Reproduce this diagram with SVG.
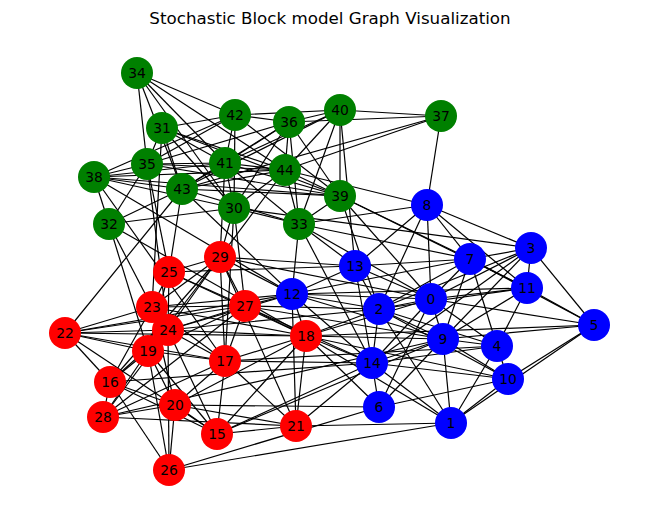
<svg xmlns="http://www.w3.org/2000/svg" width="660" height="522" viewBox="0 0 660 522">
<style>
.e line{stroke:#000;stroke-width:1.2}
.n circle{stroke:none}
.r circle{fill:#ff0000}.b circle{fill:#0000ff}.g circle{fill:#008000}
.n text{font-family:"DejaVu Sans",sans-serif;font-size:13.9px;fill:#000;text-anchor:middle;dominant-baseline:central}
.t{font-family:"DejaVu Sans",sans-serif;font-size:16.7px;text-anchor:middle;fill:#000}
</style>
<rect width="660" height="522" fill="#fff"/>
<text class="t" x="330" y="24">Stochastic Block model Graph Visualization</text>
<g id="edges" class="e">
<line x1="137" y1="73" x2="235" y2="115"/><line x1="137" y1="73" x2="285" y2="170"/><line x1="137" y1="73" x2="225" y2="163"/><line x1="137" y1="73" x2="234" y2="208"/><line x1="137" y1="73" x2="147" y2="164"/><line x1="137" y1="73" x2="182" y2="189"/>
<line x1="235" y1="115" x2="289" y2="122"/><line x1="235" y1="115" x2="340" y2="110"/><line x1="235" y1="115" x2="225" y2="163"/><line x1="235" y1="115" x2="234" y2="208"/><line x1="235" y1="115" x2="147" y2="164"/><line x1="235" y1="115" x2="162" y2="128"/><line x1="235" y1="115" x2="340" y2="196"/><line x1="235" y1="115" x2="94" y2="177"/>
<line x1="289" y1="122" x2="340" y2="110"/><line x1="289" y1="122" x2="441" y2="116"/><line x1="289" y1="122" x2="285" y2="170"/><line x1="289" y1="122" x2="340" y2="196"/><line x1="289" y1="122" x2="299" y2="224"/><line x1="289" y1="122" x2="182" y2="189"/><line x1="289" y1="122" x2="147" y2="164"/><line x1="289" y1="122" x2="234" y2="208"/><line x1="289" y1="122" x2="225" y2="163"/>
<line x1="340" y1="110" x2="441" y2="116"/><line x1="340" y1="110" x2="340" y2="196"/><line x1="340" y1="110" x2="299" y2="224"/><line x1="340" y1="110" x2="285" y2="170"/><line x1="340" y1="110" x2="225" y2="163"/><line x1="340" y1="110" x2="182" y2="189"/>
<line x1="441" y1="116" x2="285" y2="170"/><line x1="441" y1="116" x2="182" y2="189"/>
<line x1="162" y1="128" x2="147" y2="164"/><line x1="162" y1="128" x2="225" y2="163"/><line x1="162" y1="128" x2="182" y2="189"/><line x1="162" y1="128" x2="285" y2="170"/><line x1="162" y1="128" x2="340" y2="196"/><line x1="162" y1="128" x2="234" y2="208"/>
<line x1="147" y1="164" x2="94" y2="177"/><line x1="147" y1="164" x2="225" y2="163"/><line x1="147" y1="164" x2="285" y2="170"/><line x1="147" y1="164" x2="340" y2="196"/><line x1="147" y1="164" x2="109" y2="224"/>
<line x1="225" y1="163" x2="94" y2="177"/><line x1="225" y1="163" x2="182" y2="189"/><line x1="225" y1="163" x2="285" y2="170"/><line x1="225" y1="163" x2="234" y2="208"/><line x1="225" y1="163" x2="340" y2="196"/><line x1="225" y1="163" x2="299" y2="224"/>
<line x1="94" y1="177" x2="182" y2="189"/><line x1="94" y1="177" x2="285" y2="170"/><line x1="94" y1="177" x2="234" y2="208"/><line x1="94" y1="177" x2="340" y2="196"/><line x1="94" y1="177" x2="109" y2="224"/>
<line x1="182" y1="189" x2="285" y2="170"/><line x1="182" y1="189" x2="340" y2="196"/><line x1="182" y1="189" x2="109" y2="224"/><line x1="182" y1="189" x2="299" y2="224"/>
<line x1="285" y1="170" x2="340" y2="196"/><line x1="285" y1="170" x2="299" y2="224"/><line x1="285" y1="170" x2="234" y2="208"/>
<line x1="340" y1="196" x2="299" y2="224"/><line x1="234" y1="208" x2="299" y2="224"/><line x1="109" y1="224" x2="234" y2="208"/>
<line x1="441" y1="116" x2="427" y2="205"/><line x1="340" y1="110" x2="355" y2="266"/><line x1="285" y1="170" x2="427" y2="205"/><line x1="299" y1="224" x2="292" y2="294"/><line x1="299" y1="224" x2="355" y2="266"/><line x1="299" y1="224" x2="470" y2="259"/><line x1="234" y1="208" x2="531" y2="248"/><line x1="340" y1="196" x2="379" y2="309"/><line x1="340" y1="196" x2="431" y2="299"/><line x1="340" y1="196" x2="470" y2="259"/><line x1="234" y1="208" x2="245" y2="306"/><line x1="234" y1="208" x2="220" y2="257"/><line x1="234" y1="208" x2="225" y2="361"/><line x1="225" y1="163" x2="220" y2="257"/><line x1="182" y1="189" x2="169" y2="272"/><line x1="182" y1="189" x2="65" y2="333"/><line x1="109" y1="224" x2="152" y2="307"/><line x1="109" y1="224" x2="148" y2="351"/><line x1="109" y1="224" x2="306" y2="336"/><line x1="147" y1="164" x2="169" y2="272"/><line x1="147" y1="164" x2="168" y2="330"/><line x1="162" y1="128" x2="152" y2="307"/><line x1="94" y1="177" x2="225" y2="361"/><line x1="94" y1="177" x2="292" y2="294"/><line x1="182" y1="189" x2="292" y2="294"/><line x1="299" y1="224" x2="372" y2="363"/><line x1="285" y1="170" x2="220" y2="257"/><line x1="340" y1="196" x2="527" y2="288"/><line x1="299" y1="224" x2="427" y2="205"/><line x1="299" y1="224" x2="431" y2="299"/>
<line x1="65" y1="333" x2="152" y2="307"/><line x1="65" y1="333" x2="245" y2="306"/><line x1="65" y1="333" x2="168" y2="330"/><line x1="65" y1="333" x2="306" y2="336"/><line x1="65" y1="333" x2="225" y2="361"/><line x1="65" y1="333" x2="148" y2="351"/><line x1="65" y1="333" x2="110" y2="382"/><line x1="65" y1="333" x2="217" y2="434"/>
<line x1="152" y1="307" x2="169" y2="272"/><line x1="152" y1="307" x2="220" y2="257"/><line x1="152" y1="307" x2="245" y2="306"/><line x1="152" y1="307" x2="168" y2="330"/><line x1="152" y1="307" x2="225" y2="361"/><line x1="152" y1="307" x2="306" y2="336"/><line x1="152" y1="307" x2="110" y2="382"/><line x1="152" y1="307" x2="175" y2="405"/>
<line x1="169" y1="272" x2="220" y2="257"/><line x1="169" y1="272" x2="168" y2="330"/><line x1="169" y1="272" x2="245" y2="306"/><line x1="169" y1="272" x2="306" y2="336"/><line x1="169" y1="272" x2="148" y2="351"/>
<line x1="220" y1="257" x2="245" y2="306"/><line x1="220" y1="257" x2="225" y2="361"/><line x1="220" y1="257" x2="168" y2="330"/><line x1="220" y1="257" x2="148" y2="351"/><line x1="220" y1="257" x2="110" y2="382"/><line x1="220" y1="257" x2="296" y2="426"/>
<line x1="245" y1="306" x2="168" y2="330"/><line x1="245" y1="306" x2="225" y2="361"/><line x1="245" y1="306" x2="306" y2="336"/><line x1="245" y1="306" x2="148" y2="351"/><line x1="245" y1="306" x2="103" y2="417"/>
<line x1="168" y1="330" x2="148" y2="351"/><line x1="168" y1="330" x2="225" y2="361"/><line x1="168" y1="330" x2="306" y2="336"/><line x1="168" y1="330" x2="217" y2="434"/><line x1="168" y1="330" x2="169" y2="470"/><line x1="168" y1="330" x2="110" y2="382"/><line x1="168" y1="330" x2="103" y2="417"/>
<line x1="148" y1="351" x2="110" y2="382"/><line x1="148" y1="351" x2="225" y2="361"/><line x1="148" y1="351" x2="175" y2="405"/><line x1="148" y1="351" x2="217" y2="434"/><line x1="148" y1="351" x2="169" y2="470"/><line x1="148" y1="351" x2="103" y2="417"/>
<line x1="225" y1="361" x2="217" y2="434"/><line x1="225" y1="361" x2="175" y2="405"/><line x1="225" y1="361" x2="306" y2="336"/><line x1="225" y1="361" x2="296" y2="426"/><line x1="225" y1="361" x2="103" y2="417"/>
<line x1="306" y1="336" x2="296" y2="426"/><line x1="306" y1="336" x2="217" y2="434"/><line x1="306" y1="336" x2="175" y2="405"/>
<line x1="110" y1="382" x2="103" y2="417"/><line x1="110" y1="382" x2="175" y2="405"/><line x1="110" y1="382" x2="217" y2="434"/><line x1="110" y1="382" x2="169" y2="470"/>
<line x1="175" y1="405" x2="217" y2="434"/><line x1="175" y1="405" x2="169" y2="470"/><line x1="175" y1="405" x2="103" y2="417"/><line x1="175" y1="405" x2="296" y2="426"/>
<line x1="217" y1="434" x2="296" y2="426"/><line x1="103" y1="417" x2="296" y2="426"/>
<line x1="306" y1="336" x2="372" y2="363"/><line x1="306" y1="336" x2="379" y2="407"/><line x1="306" y1="336" x2="451" y2="423"/><line x1="306" y1="336" x2="292" y2="294"/><line x1="306" y1="336" x2="379" y2="309"/><line x1="306" y1="336" x2="431" y2="299"/><line x1="306" y1="336" x2="443" y2="339"/><line x1="306" y1="336" x2="508" y2="379"/><line x1="306" y1="336" x2="594" y2="325"/>
<line x1="245" y1="306" x2="292" y2="294"/><line x1="245" y1="306" x2="379" y2="309"/><line x1="245" y1="306" x2="443" y2="339"/><line x1="245" y1="306" x2="372" y2="363"/><line x1="168" y1="330" x2="292" y2="294"/><line x1="168" y1="330" x2="379" y2="309"/><line x1="152" y1="307" x2="292" y2="294"/>
<line x1="296" y1="426" x2="451" y2="423"/><line x1="296" y1="426" x2="372" y2="363"/><line x1="296" y1="426" x2="292" y2="294"/><line x1="169" y1="470" x2="379" y2="407"/><line x1="169" y1="470" x2="451" y2="423"/><line x1="175" y1="405" x2="379" y2="407"/><line x1="217" y1="434" x2="372" y2="363"/><line x1="217" y1="434" x2="443" y2="339"/><line x1="110" y1="382" x2="372" y2="363"/><line x1="225" y1="361" x2="372" y2="363"/><line x1="103" y1="417" x2="443" y2="339"/><line x1="220" y1="257" x2="292" y2="294"/><line x1="220" y1="257" x2="355" y2="266"/><line x1="220" y1="257" x2="431" y2="299"/><line x1="169" y1="272" x2="355" y2="266"/><line x1="65" y1="333" x2="292" y2="294"/><line x1="225" y1="361" x2="497" y2="346"/>
<line x1="431" y1="299" x2="427" y2="205"/><line x1="431" y1="299" x2="379" y2="309"/><line x1="431" y1="299" x2="470" y2="259"/><line x1="431" y1="299" x2="531" y2="248"/><line x1="431" y1="299" x2="527" y2="288"/><line x1="431" y1="299" x2="594" y2="325"/><line x1="431" y1="299" x2="443" y2="339"/><line x1="431" y1="299" x2="497" y2="346"/><line x1="431" y1="299" x2="379" y2="407"/><line x1="431" y1="299" x2="372" y2="363"/><line x1="431" y1="299" x2="292" y2="294"/><line x1="431" y1="299" x2="355" y2="266"/>
<line x1="379" y1="309" x2="355" y2="266"/><line x1="379" y1="309" x2="292" y2="294"/><line x1="379" y1="309" x2="443" y2="339"/><line x1="379" y1="309" x2="372" y2="363"/><line x1="379" y1="309" x2="470" y2="259"/><line x1="379" y1="309" x2="531" y2="248"/><line x1="379" y1="309" x2="527" y2="288"/><line x1="379" y1="309" x2="508" y2="379"/><line x1="379" y1="309" x2="497" y2="346"/><line x1="379" y1="309" x2="451" y2="423"/><line x1="379" y1="309" x2="427" y2="205"/>
<line x1="470" y1="259" x2="427" y2="205"/><line x1="470" y1="259" x2="531" y2="248"/><line x1="470" y1="259" x2="527" y2="288"/><line x1="470" y1="259" x2="594" y2="325"/><line x1="470" y1="259" x2="443" y2="339"/><line x1="470" y1="259" x2="497" y2="346"/><line x1="470" y1="259" x2="355" y2="266"/><line x1="470" y1="259" x2="292" y2="294"/>
<line x1="531" y1="248" x2="427" y2="205"/><line x1="531" y1="248" x2="594" y2="325"/><line x1="531" y1="248" x2="443" y2="339"/><line x1="531" y1="248" x2="372" y2="363"/><line x1="531" y1="248" x2="527" y2="288"/>
<line x1="527" y1="288" x2="427" y2="205"/><line x1="527" y1="288" x2="594" y2="325"/><line x1="527" y1="288" x2="443" y2="339"/><line x1="527" y1="288" x2="497" y2="346"/><line x1="527" y1="288" x2="292" y2="294"/>
<line x1="443" y1="339" x2="497" y2="346"/><line x1="443" y1="339" x2="508" y2="379"/><line x1="443" y1="339" x2="451" y2="423"/><line x1="443" y1="339" x2="379" y2="407"/><line x1="443" y1="339" x2="594" y2="325"/><line x1="443" y1="339" x2="372" y2="363"/><line x1="443" y1="339" x2="292" y2="294"/>
<line x1="497" y1="346" x2="508" y2="379"/><line x1="497" y1="346" x2="451" y2="423"/><line x1="497" y1="346" x2="372" y2="363"/>
<line x1="508" y1="379" x2="451" y2="423"/><line x1="508" y1="379" x2="594" y2="325"/><line x1="508" y1="379" x2="372" y2="363"/><line x1="508" y1="379" x2="379" y2="407"/>
<line x1="372" y1="363" x2="292" y2="294"/><line x1="372" y1="363" x2="355" y2="266"/><line x1="372" y1="363" x2="379" y2="407"/><line x1="372" y1="363" x2="451" y2="423"/>
<line x1="355" y1="266" x2="292" y2="294"/><line x1="355" y1="266" x2="427" y2="205"/><line x1="594" y1="325" x2="451" y2="423"/>
</g>
<g id="n0" class="n b"><circle cx="431" cy="299" r="16"/><text x="431" y="299">0</text></g>
<g id="n1" class="n b"><circle cx="451" cy="423" r="16"/><text x="451" y="423">1</text></g>
<g id="n2" class="n b"><circle cx="379" cy="309" r="16"/><text x="379" y="309">2</text></g>
<g id="n3" class="n b"><circle cx="531" cy="248" r="16"/><text x="531" y="248">3</text></g>
<g id="n4" class="n b"><circle cx="497" cy="346" r="16"/><text x="497" y="346">4</text></g>
<g id="n5" class="n b"><circle cx="594" cy="325" r="16"/><text x="594" y="325">5</text></g>
<g id="n6" class="n b"><circle cx="379" cy="407" r="16"/><text x="379" y="407">6</text></g>
<g id="n7" class="n b"><circle cx="470" cy="259" r="16"/><text x="470" y="259">7</text></g>
<g id="n8" class="n b"><circle cx="427" cy="205" r="16"/><text x="427" y="205">8</text></g>
<g id="n9" class="n b"><circle cx="443" cy="339" r="16"/><text x="443" y="339">9</text></g>
<g id="n10" class="n b"><circle cx="508" cy="379" r="16"/><text x="508" y="379">10</text></g>
<g id="n11" class="n b"><circle cx="527" cy="288" r="16"/><text x="527" y="288">11</text></g>
<g id="n12" class="n b"><circle cx="292" cy="294" r="16"/><text x="292" y="294">12</text></g>
<g id="n13" class="n b"><circle cx="355" cy="266" r="16"/><text x="355" y="266">13</text></g>
<g id="n14" class="n b"><circle cx="372" cy="363" r="16"/><text x="372" y="363">14</text></g>
<g id="n15" class="n r"><circle cx="217" cy="434" r="16"/><text x="217" y="434">15</text></g>
<g id="n16" class="n r"><circle cx="110" cy="382" r="16"/><text x="110" y="382">16</text></g>
<g id="n17" class="n r"><circle cx="225" cy="361" r="16"/><text x="225" y="361">17</text></g>
<g id="n18" class="n r"><circle cx="306" cy="336" r="16"/><text x="306" y="336">18</text></g>
<g id="n19" class="n r"><circle cx="148" cy="351" r="16"/><text x="148" y="351">19</text></g>
<g id="n20" class="n r"><circle cx="175" cy="405" r="16"/><text x="175" y="405">20</text></g>
<g id="n21" class="n r"><circle cx="296" cy="426" r="16"/><text x="296" y="426">21</text></g>
<g id="n22" class="n r"><circle cx="65" cy="333" r="16"/><text x="65" y="333">22</text></g>
<g id="n23" class="n r"><circle cx="152" cy="307" r="16"/><text x="152" y="307">23</text></g>
<g id="n24" class="n r"><circle cx="168" cy="330" r="16"/><text x="168" y="330">24</text></g>
<g id="n25" class="n r"><circle cx="169" cy="272" r="16"/><text x="169" y="272">25</text></g>
<g id="n26" class="n r"><circle cx="169" cy="470" r="16"/><text x="169" y="470">26</text></g>
<g id="n27" class="n r"><circle cx="245" cy="306" r="16"/><text x="245" y="306">27</text></g>
<g id="n28" class="n r"><circle cx="103" cy="417" r="16"/><text x="103" y="417">28</text></g>
<g id="n29" class="n r"><circle cx="220" cy="257" r="16"/><text x="220" y="257">29</text></g>
<g id="n30" class="n g"><circle cx="234" cy="208" r="16"/><text x="234" y="208">30</text></g>
<g id="n31" class="n g"><circle cx="162" cy="128" r="16"/><text x="162" y="128">31</text></g>
<g id="n32" class="n g"><circle cx="109" cy="224" r="16"/><text x="109" y="224">32</text></g>
<g id="n33" class="n g"><circle cx="299" cy="224" r="16"/><text x="299" y="224">33</text></g>
<g id="n34" class="n g"><circle cx="137" cy="73" r="16"/><text x="137" y="73">34</text></g>
<g id="n35" class="n g"><circle cx="147" cy="164" r="16"/><text x="147" y="164">35</text></g>
<g id="n36" class="n g"><circle cx="289" cy="122" r="16"/><text x="289" y="122">36</text></g>
<g id="n37" class="n g"><circle cx="441" cy="116" r="16"/><text x="441" y="116">37</text></g>
<g id="n38" class="n g"><circle cx="94" cy="177" r="16"/><text x="94" y="177">38</text></g>
<g id="n39" class="n g"><circle cx="340" cy="196" r="16"/><text x="340" y="196">39</text></g>
<g id="n40" class="n g"><circle cx="340" cy="110" r="16"/><text x="340" y="110">40</text></g>
<g id="n41" class="n g"><circle cx="225" cy="163" r="16"/><text x="225" y="163">41</text></g>
<g id="n42" class="n g"><circle cx="235" cy="115" r="16"/><text x="235" y="115">42</text></g>
<g id="n43" class="n g"><circle cx="182" cy="189" r="16"/><text x="182" y="189">43</text></g>
<g id="n44" class="n g"><circle cx="285" cy="170" r="16"/><text x="285" y="170">44</text></g>
</svg>
